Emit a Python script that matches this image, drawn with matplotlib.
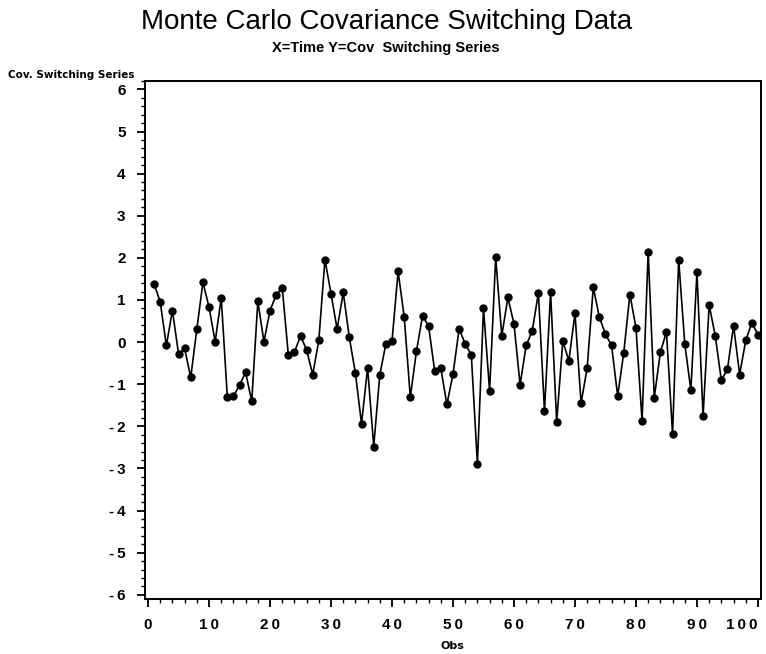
import matplotlib
matplotlib.use("Agg")
import matplotlib.pyplot as plt
from matplotlib import font_manager
from matplotlib.ticker import MultipleLocator

# Cov. switching series, one value per observation
obs = list(range(1, 101))
cov_switch = [
    1.38, 0.95, -0.08, 0.75, -0.28, -0.15, -0.84, 0.31, 1.42, 0.83,
    0.01, 1.05, -1.31, -1.29, -1.02, -0.72, -1.41, 0.97, 0.01, 0.75,
    1.12, 1.29, -0.30, -0.24, 0.15, -0.19, -0.77, 0.04, 1.96, 1.15,
    0.31, 1.18, 0.11, -0.74, -1.94, -0.61, -2.48, -0.77, -0.04, 0.02,
    1.68, 0.60, -1.31, -0.22, 0.62, 0.38, -0.69, -0.62, -1.48, -0.76,
    0.31, -0.04, -0.30, -2.89, 0.80, -1.15, 2.01, 0.15, 1.06, 0.43,
    -1.01, -0.08, 0.27, 1.17, -1.63, 1.18, -1.89, 0.02, -0.44, 0.68,
    -1.45, -0.61, 1.30, 0.59, 0.19, -0.08, -1.28, -0.25, 1.13, 0.34,
    -1.87, 2.15, -1.32, -0.24, 0.24, -2.18, 1.96, -0.04, -1.14, 1.66,
    -1.76, 0.88, 0.15, -0.91, -0.64, 0.39, -0.77, 0.04, 0.46, 0.18,
]

x_ticks = list(range(0, 101, 10))
x_labels = ["\u2009".join(str(v)) for v in x_ticks]
y_ticks = list(range(-6, 7))
y_labels = [("-\u2009" + str(-v)) if v < 0 else str(v) for v in y_ticks]

installed = {f.name for f in font_manager.fontManager.ttflist}
narrow = "Liberation Sans Narrow" if "Liberation Sans Narrow" in installed else "Liberation Sans"

fig = plt.figure(figsize=(7.66, 6.54), dpi=100)
ax = fig.add_axes([145 / 766, 1 - 599 / 654, 616 / 766, 518 / 654])

ax.plot(obs, cov_switch, color="black", linewidth=1.2,
        marker="o", markersize=5, markerfacecolor="black", markeredgecolor="black")

ax.set_xlim(-0.5, 100.5)
ax.set_ylim(-6.1, 6.2)
ax.set_xticks(x_ticks)
ax.set_xticklabels(x_labels)
ax.set_yticks(y_ticks)
ax.set_yticklabels(y_labels)
ax.xaxis.set_minor_locator(MultipleLocator(2))
ax.yaxis.set_minor_locator(MultipleLocator(0.2))
ax.tick_params(which="major", length=6, width=1.3, direction="out", pad=8)
ax.tick_params(which="minor", length=3, width=1.0, direction="out")
for lab in ax.get_xticklabels() + ax.get_yticklabels():
    lab.set_fontfamily(narrow)
    lab.set_fontweight("bold")
    lab.set_fontsize(11)
# keep the last x label inside the figure
ax.get_xticklabels()[-1].set_horizontalalignment("right")
for side in ax.spines.values():
    side.set_linewidth(1.4)

fig.text(387 / 766, 1 - 22 / 654, "Monte Carlo Covariance Switching Data",
         ha="center", va="center", fontsize=20, family="Liberation Sans")
fig.text(386 / 766, 1 - 48 / 654, "X=Time Y=Cov  Switching Series",
         ha="center", va="center", fontsize=10.5, family=narrow, fontweight="bold")
fig.text(8 / 766, 1 - 75 / 654, "Cov. Switching Series",
         ha="left", va="center", fontsize=7.5, family="DejaVu Sans", fontweight="bold")
fig.text(452 / 766, 1 - 646 / 654, "Obs",
         ha="center", va="center", fontsize=8, family="DejaVu Sans", fontweight="bold")

fig.savefig("out.png", dpi=100)
